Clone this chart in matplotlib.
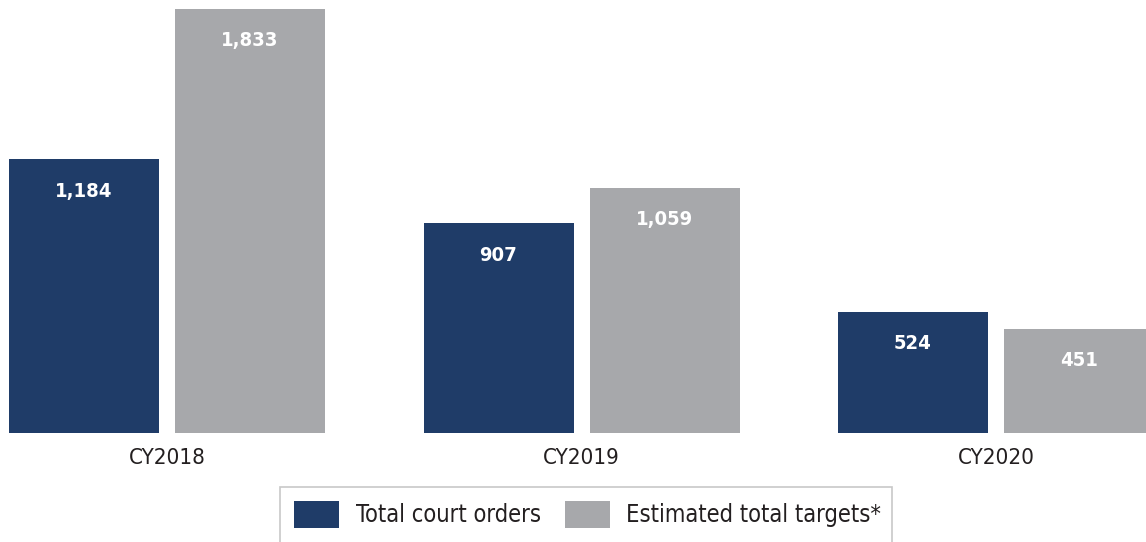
import numpy as np
import matplotlib
matplotlib.use('Agg')
import matplotlib.pyplot as plt
from matplotlib import font_manager as fm
from matplotlib.patches import Rectangle

# data
years = ['CY2018', 'CY2019', 'CY2020']
court_orders = [1184, 907, 524]
est_targets = [1833, 1059, 451]
series_names = ['Total court orders', 'Estimated total targets*']

navy = '#1f3c68'
grey = '#a7a8ab'

# look for a narrow face, the original uses a condensed grotesque
narrow = [f for f in fm.fontManager.ttflist
          if f.stretch in ('condensed', 'semi-condensed', 'extra-condensed')
          or 'Narrow' in f.name or 'Condensed' in f.name]
if any(f.name == 'Liberation Sans Narrow' for f in narrow):
    fam, stretch = 'Liberation Sans Narrow', 'normal'
elif narrow:
    fam, stretch = narrow[0].name, 'condensed'
else:
    fam, stretch = 'Roboto', 'normal'
plt.rcParams['font.family'] = [fam, 'DejaVu Sans']
plt.rcParams['font.stretch'] = stretch

W, H = 1146, 542
fig = plt.figure(figsize=(W/100, H/100), dpi=100)
# axes bottom at y=433px, top of tallest bar at y=9px
ax = fig.add_axes([0, (H-433)/H, 1, 433/H])

x = np.arange(len(years))
step = 414.5  # px between groups
bw = 150/step
off = 83/step
ax.set_xlim(-167/step, (W-167)/step)
ax.set_ylim(0, 1833*433/424)

b1 = ax.bar(x-off, court_orders, bw, color=navy, label=series_names[0])
b2 = ax.bar(x+off, est_targets, bw, color=grey, label=series_names[1])

for bars, vals in [(b1, court_orders), (b2, est_targets)]:
    for r, v in zip(bars, vals):
        ax.annotate(f'{v:,}', (r.get_x()+r.get_width()/2, v), xytext=(0, -23),
                    textcoords='offset points', ha='center', va='center',
                    color='white', fontsize=14.5, fontweight='bold')

ax.set_xticks(x)
ax.set_xticklabels(years, fontsize=16, color='#231f20')
ax.tick_params(axis='x', length=0, pad=11)
ax.set_yticks([])
for s in ax.spines.values():
    s.set_visible(False)

fs = 17
leg = fig.legend(handles=[b1, b2], loc='upper left', bbox_to_anchor=(280/W, 1-487/H),
                 ncol=2, fontsize=fs, frameon=False,
                 handlelength=1.9, handleheight=1.35, handletextpad=0.72,
                 columnspacing=1.0, borderpad=0.6, borderaxespad=0)
for t in leg.get_texts():
    t.set_color('#231f20')

# legend box runs off the bottom of the picture, so draw it by hand
fig.patches.append(Rectangle((280/W, -20/H), 612/W, (55+20)/H, transform=fig.transFigure,
                             fill=False, edgecolor='#c8c8c8', linewidth=1.2))

fig.savefig('out.png', dpi=100)
